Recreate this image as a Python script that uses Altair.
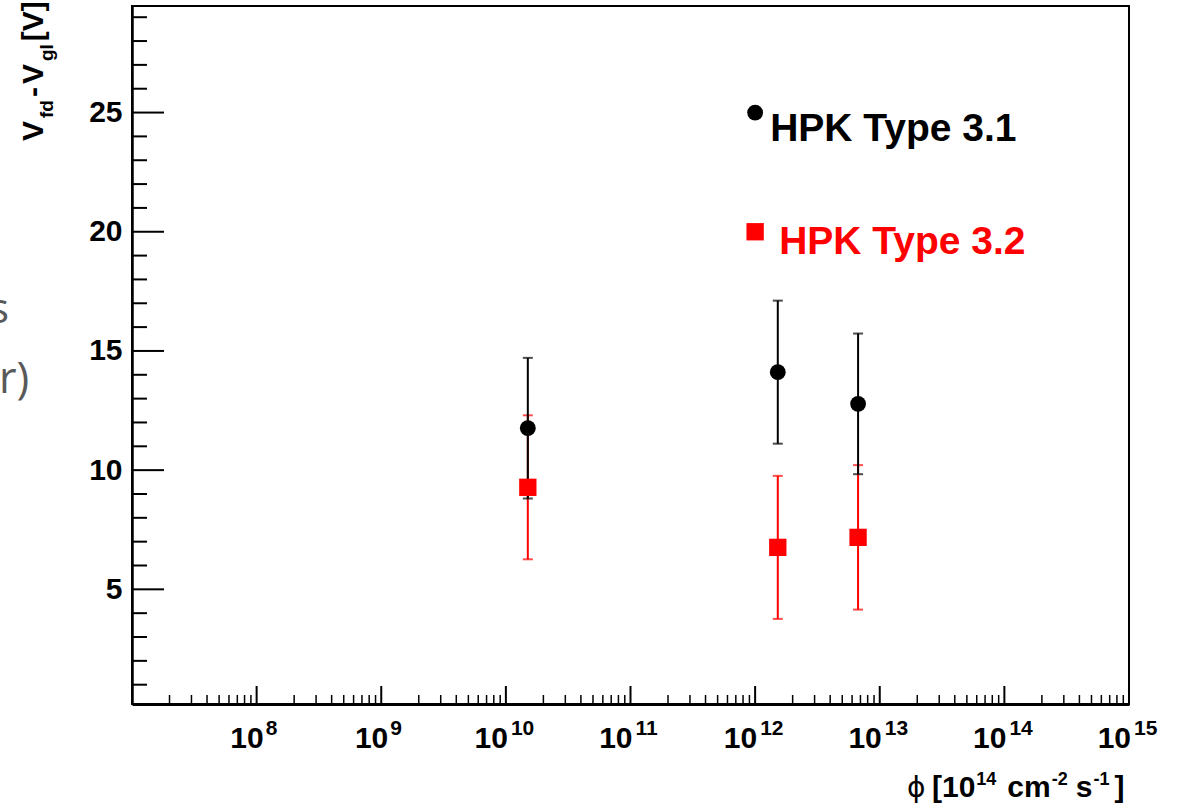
import altair as alt
import pandas as pd

# ---------------- data ----------------
phi_31 = [1.5e10, 1.52e12, 6.7e12]
v_31 = [11.76, 14.11, 12.78]
err_31 = [2.95, 3.0, 2.95]

phi_32 = [1.5e10, 1.52e12, 6.7e12]
v_32 = [9.28, 6.76, 7.18]
err_32 = [3.02, 3.0, 3.03]

legend_labels = ["HPK Type 3.1", "HPK Type 3.2"]
legend_phi = [1e12, 1e12]
legend_v = [25, 20]

y_major = [5, 10, 15, 20, 25]
y_minor = [v for v in range(1, 30) if v % 5 != 0]
x_major_exp = [8, 9, 10, 11, 12, 13, 14, 15]
x_minor = [k * 10.0 ** n for n in range(7, 15) for k in range(2, 10)]

# ---------------- layout ----------------
W, H = 997, 698
FONT = "Liberation Sans"
xs = alt.Scale(type="log", domain=[1e7, 1e15], nice=False)
ys = alt.Scale(domain=[0.19, 29.47], nice=False, zero=False)

df31 = pd.DataFrame({"phi": phi_31, "v": v_31,
                     "lo": [v - e for v, e in zip(v_31, err_31)],
                     "hi": [v + e for v, e in zip(v_31, err_31)]})
df32 = pd.DataFrame({"phi": phi_32, "v": v_32,
                     "lo": [v - e for v, e in zip(v_32, err_32)],
                     "hi": [v + e for v, e in zip(v_32, err_32)]})

xaxis = alt.Axis(labels=False, ticks=False, tickSize=0, grid=False, domain=True,
                 domainWidth=3, domainColor="black", title=None)
yaxis = alt.Axis(values=y_major, ticks=False, tickSize=0, grid=False, domain=True,
                 domainWidth=2.5, domainColor="black", title=None,
                 labelFont=FONT, labelFontWeight="bold", labelFontSize=30,
                 labelColor="black", labelPadding=10)


def X(f="phi:Q"):
    return alt.X(f, scale=xs, axis=xaxis)


def Y(f="v:Q"):
    return alt.Y(f, scale=ys, axis=yaxis)


layers = []

# error bars (red first, black on top)
for df, col in [(df32, "#ff0000"), (df31, "#000000")]:
    layers.append(alt.Chart(df).mark_rule(color=col, strokeWidth=2).encode(
        x=X(), y=Y("lo:Q"), y2="hi:Q"))
    layers.append(alt.Chart(df).transform_fold(["lo", "hi"], as_=["k", "cap"]).mark_tick(
        color=col, orient="horizontal", size=10, thickness=2).encode(x=X(), y=Y("cap:Q")))

layers.append(alt.Chart(df32).mark_point(shape="square", filled=True, size=300,
                                         color="#ff0000", opacity=1).encode(x=X(), y=Y()))
layers.append(alt.Chart(df31).mark_point(shape="circle", filled=True, size=250,
                                         color="#000000", opacity=1).encode(x=X(), y=Y()))

# legend (markers drawn at data coordinates, like the ROOT canvas)
leg = pd.DataFrame({"phi": legend_phi, "v": legend_v, "label": legend_labels})
layers.append(alt.Chart(leg.iloc[[0]]).mark_point(shape="circle", filled=True, size=250,
                                                  color="#000000", opacity=1).encode(x=X(), y=Y()))
layers.append(alt.Chart(leg.iloc[[1]]).mark_point(shape="square", filled=True, size=300,
                                                  color="#ff0000", opacity=1).encode(x=X(), y=Y()))
layers.append(alt.Chart(leg.iloc[[0]]).mark_text(
    align="left", baseline="alphabetic", dx=15, dy=28, font=FONT, fontWeight="bold",
    fontSize=39, color="#000000").encode(x=X(), y=Y(), text="label:N"))
layers.append(alt.Chart(leg.iloc[[1]]).mark_text(
    align="left", baseline="alphabetic", dx=24, dy=22, font=FONT, fontWeight="bold",
    fontSize=39, color="#ff0000").encode(x=X(), y=Y(), text="label:N"))

# inward ticks
layers.append(alt.Chart(pd.DataFrame({"t": y_major})).mark_rule(color="black", strokeWidth=2).encode(
    y=Y("t:Q"), x=alt.value(0), x2=alt.value(32)))
layers.append(alt.Chart(pd.DataFrame({"t": y_minor})).mark_rule(color="black", strokeWidth=2).encode(
    y=Y("t:Q"), x=alt.value(0), x2=alt.value(15)))
layers.append(alt.Chart(pd.DataFrame({"t": [10.0 ** e for e in x_major_exp]})).mark_rule(
    color="black", strokeWidth=2).encode(x=X("t:Q"), y=alt.value(H), y2=alt.value(H - 18)))
layers.append(alt.Chart(pd.DataFrame({"t": x_minor})).mark_rule(color="black", strokeWidth=1.5).encode(
    x=X("t:Q"), y=alt.value(H), y2=alt.value(H - 9)))

# x tick labels 10^n with superscripts
xl = pd.DataFrame({"t": [10.0 ** e for e in x_major_exp], "base": ["10"] * len(x_major_exp),
                   "sup": [str(e) for e in x_major_exp], "nd": [len(str(e)) for e in x_major_exp]})
for nd, bdx, sdx in [(1, 7, 9), (2, 2, 5)]:
    sub = xl[xl.nd == nd]
    layers.append(alt.Chart(sub).mark_text(align="right", baseline="alphabetic", dx=bdx,
                                           font=FONT, fontWeight="bold", fontSize=30, color="black").encode(
        x=X("t:Q"), y=alt.value(742), text="base:N"))
    layers.append(alt.Chart(sub).mark_text(align="left", baseline="alphabetic", dx=sdx,
                                           font=FONT, fontWeight="bold", fontSize=21, color="black").encode(
        x=X("t:Q"), y=alt.value(729), text="sup:N"))

# ---------------- titles with sub/superscripts ----------------
EM = {"[": .333, "]": .333, "-": .333, " ": .278, "c": .556, "m": .889, "s": .556,
      "V": .667, "f": .333, "d": .611, "g": .611, "l": .278}


def width(t, fs):
    return sum(EM.get(ch, .556) for ch in t) * fs


def piece(t, x, y, fs, angle=0, weight="bold", font=FONT, color="black", align="left"):
    kw = dict(align=align, baseline="alphabetic", font=font, fontWeight=weight,
              fontSize=fs, color=color)
    if angle:
        kw["angle"] = angle
    return alt.Chart(pd.DataFrame({"s": [t]})).mark_text(**kw).encode(
        x=alt.value(x), y=alt.value(y), text="s:N")


# x title:  phi [10^14 cm^-2 s^-1]   (text, size, baseline shift, gap before)
layers.append(piece("ϕ", 775, 791, 28, weight="normal", font="DejaVu Sans"))
xt = [("[10", 30, 0, 0), ("14", 18, -12, 1), ("cm", 30, 0, 11), ("-2", 18, -12, 1),
      ("s", 30, 0, 8), ("-1", 18, -12, 1), ("]", 30, 0, 5)]
cur = 800
for t, fs, sh, gap in xt:
    cur += gap
    layers.append(piece(t, cur, 791 + sh, fs))
    cur += width(t, fs)

# y title: V_fd - V_gl [V]  (rotated, reading upwards)
yt = [("V", 30, 0), ("fd", 19, 10), ("-", 30, 0), ("V", 30, 0), ("gl", 19, 10), ("[V]", 30, 0)]
cur = 135
for t, fs, sh in yt:
    layers.append(piece(t, -89 + sh, cur, fs, angle=270))
    cur -= width(t, fs) + 3

# fragments of neighbouring slide text visible at the left edge
layers.append(piece("s", -123, 317, 42, weight="normal", font="Open Sans", color="#595959", align="right"))
layers.append(piece("r)", -133, 387, 43, weight="normal", font="Open Sans", color="#595959"))

chart = alt.layer(*layers).properties(
    width=W, height=H,
    autosize=alt.AutoSizeParams(type="none"),
    padding={"left": 132, "top": 6, "right": 57, "bottom": 106},
    background="white",
).configure_view(stroke="black", strokeWidth=2)

chart.save("out.html", embed_options={"renderer": "svg", "actions": False})
